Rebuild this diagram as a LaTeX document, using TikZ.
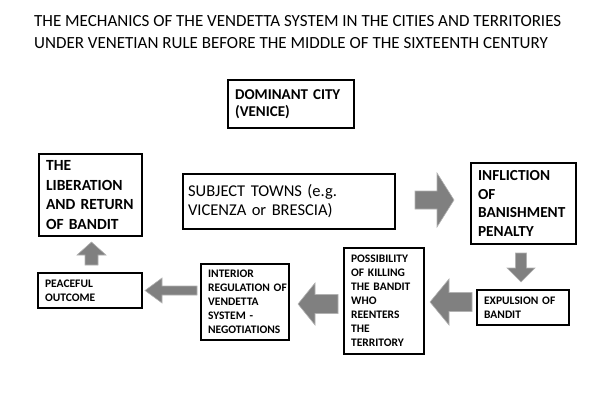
\documentclass[tikz,border=0pt]{standalone}
\usepackage{fontspec}
\setmainfont{Carlito}
\usetikzlibrary{positioning}

\tikzset{
  box/.style={draw, line width=2.2pt, anchor=north west, align=left,
    inner xsep=7pt, inner ysep=2pt},
  smallbold/.style={font=\bfseries\fontsize{11.5}{14}\selectfont},
  blockarrow/.style={fill=black!50, draw=black!30, line width=0.6pt}
}

\begin{document}
\begin{tikzpicture}[x=1pt, y=-1pt]
            \useasboundingbox (0,0) rectangle (594,417);

            % 1. Title
            \node[anchor=north west, align=left, inner sep=0pt,
              font=\fontsize{17}{22}\selectfont] (title) at (34,15)
              {THE MECHANICS OF THE VENDETTA SYSTEM IN THE CITIES AND TERRITORIES\\
               UNDER VENETIAN RULE BEFORE THE MIDDLE OF THE SIXTEENTH CENTURY};

            % 2. The boxes
            \node[box, font=\bfseries\fontsize{15}{17}\selectfont,
              text width=112pt, minimum height=48pt] (dominant) at (227,79)
              {DOMINANT CITY\\(VENICE)};
            \node[box, font=\bfseries\fontsize{15.5}{19.7}\selectfont,
              text width=89pt, minimum height=82pt] (liberation) at (38,153)
              {THE\\LIBERATION\\\mbox{AND RETURN}\\\mbox{OF BANDIT}};
            \node[box, font=\fontsize{16.5}{19}\selectfont, inner xsep=5pt,
              text width=202pt, minimum height=55pt] (towns) at (182,173)
              {SUBJECT TOWNS (e.g.\\VICENZA or BRESCIA)};
            \node[box, font=\bfseries\fontsize{15.3}{18.5}\selectfont,
              text width=91pt, minimum height=81pt] (inflict) at (470,162)
              {INFLICTION\\OF\\BANISHMENT\\PENALTY};
            \node[box, smallbold, text width=78pt, minimum height=35pt] (expulsion) at (476,289)
              {\mbox{EXPULSION OF}\\BANDIT};
            \node[box, smallbold, text width=66pt, minimum height=106pt] (killing) at (343,247)
              {POSSIBILITY\\\mbox{OF KILLING}\\\mbox{THE BANDIT}\\WHO\\REENTERS\\THE\\TERRITORY};
            \node[box, smallbold, text width=74pt, minimum height=76pt] (interior) at (200,263)
              {INTERIOR\\\mbox{REGULATION OF}\\VENDETTA\\\mbox{SYSTEM -}\\NEGOTIATIONS};
            \node[box, smallbold, text width=90pt, minimum height=35pt] (peaceful) at (37,272)
              {PEACEFUL\\OUTCOME};

            % 3. The block arrows between the boxes
            % towns -> inflict
            \fill[blockarrow] (415,191) -- (437,191) -- (437,173) -- (454,200)
              -- (437,227) -- (437,209) -- (415,209) -- cycle;
            % inflict -> expulsion
            \fill[blockarrow] (515.5,253) -- (526.5,253) -- (526.5,268) -- (535,268)
              -- (521,282) -- (507,268) -- (515.5,268) -- cycle;
            % expulsion -> killing
            \fill[blockarrow] (472,292.5) -- (449,292.5) -- (449,279) -- (430,302)
              -- (449,325) -- (449,311.5) -- (472,311.5) -- cycle;
            % killing -> interior
            \fill[blockarrow] (338,294.5) -- (315,294.5) -- (315,283) -- (298,304)
              -- (315,325) -- (315,313.5) -- (338,313.5) -- cycle;
            % interior -> peaceful
            \fill[blockarrow] (197,286) -- (162,286) -- (162,278) -- (145,290.5)
              -- (162,303) -- (162,295) -- (197,295) -- cycle;
            % peaceful -> liberation
            \fill[blockarrow] (85,265) -- (85,255) -- (77,255) -- (91.5,242)
              -- (106,255) -- (98,255) -- (98,265) -- cycle;
          \end{tikzpicture}
\end{document}
